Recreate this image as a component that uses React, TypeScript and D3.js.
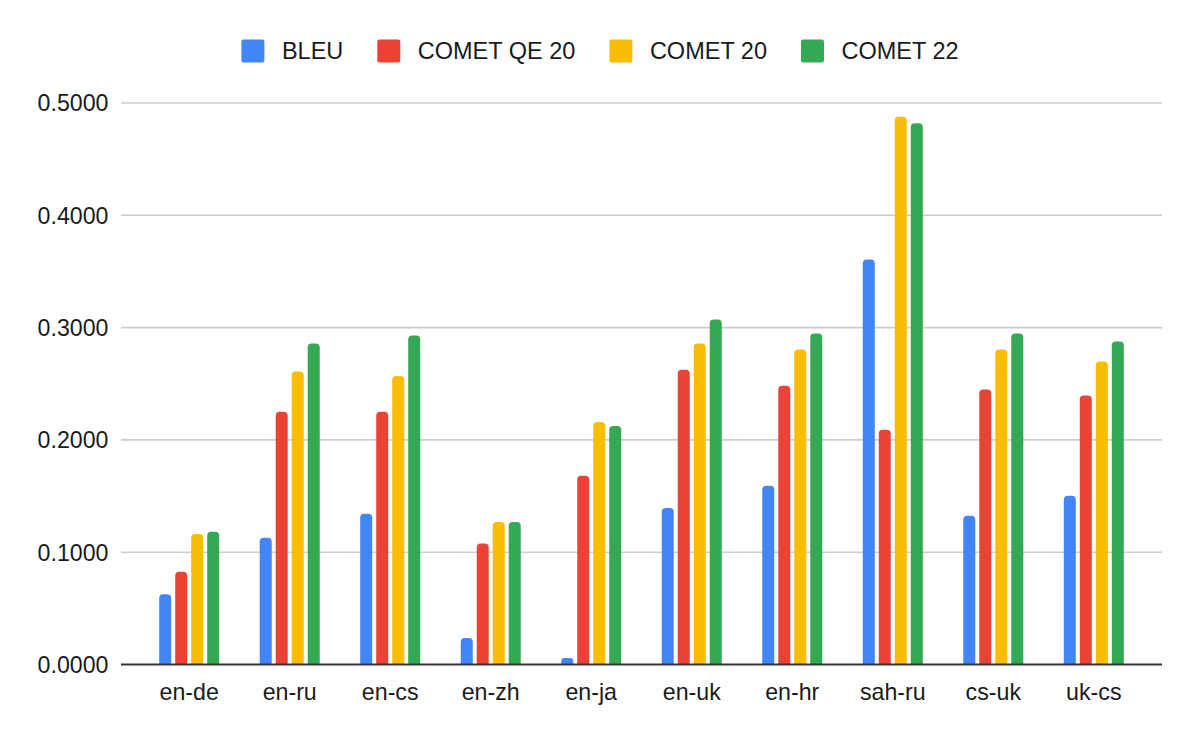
import { useEffect, useRef } from "react"
import * as d3 from "d3"

const categories = ["en-de", "en-ru", "en-cs", "en-zh", "en-ja", "en-uk", "en-hr", "sah-ru", "cs-uk", "uk-cs"]
const seriesNames = ["BLEU", "COMET QE 20", "COMET 20", "COMET 22"]
const seriesColors = ["#4285F4", "#EA4335", "#FBBC04", "#34A853"]

const bleu = [0.0625, 0.1128, 0.1342, 0.0236, 0.0057, 0.1393, 0.1591, 0.3607, 0.1324, 0.1502]
const cometQe20 = [0.0827, 0.225, 0.225, 0.1077, 0.168, 0.2624, 0.2483, 0.2091, 0.2448, 0.2395]
const comet20 = [0.1163, 0.2608, 0.257, 0.127, 0.216, 0.2858, 0.2805, 0.4877, 0.2805, 0.2698]
const comet22 = [0.1181, 0.2858, 0.293, 0.127, 0.2124, 0.3072, 0.2947, 0.482, 0.2947, 0.2876]

const yTicks = [0, 0.1, 0.2, 0.3, 0.4, 0.5]

const W = 1200
const H = 742
const FONT = "'Liberation Sans', Arial, sans-serif"

export default function App() {
  const svgRef = useRef<SVGSVGElement>(null)

  useEffect(() => {
    document.body.style.margin = "0"
    const svg = d3.select(svgRef.current)
    svg.selectAll("*").remove()

    const values = [bleu, cometQe20, comet20, comet22]
    const left = 121
    const right = 1162
    const top = 103
    const bottom = 664.5

    const x = d3.scaleBand().domain(categories).range([left, right]).paddingInner(0.403).paddingOuter(0.38)
    const xs = d3.scaleBand().domain(seriesNames).range([0, x.bandwidth()]).paddingInner(0.25)
    const y = d3.scaleLinear().domain([0, 0.5]).range([bottom, top])

    // gridlines
    svg
      .append("g")
      .selectAll("line")
      .data(yTicks.filter((t) => t > 0))
      .enter()
      .append("line")
      .attr("x1", left)
      .attr("x2", right)
      .attr("y1", (d) => y(d))
      .attr("y2", (d) => y(d))
      .attr("stroke", "#cccccc")
      .attr("stroke-width", 1.6)

    // y labels
    svg
      .append("g")
      .selectAll("text")
      .data(yTicks)
      .enter()
      .append("text")
      .attr("x", 108.5)
      .attr("y", (d) => y(d))
      .attr("dy", "0.36em")
      .attr("text-anchor", "end")
      .attr("font-family", FONT)
      .attr("font-size", 23.2)
      .attr("fill", "#1a1a1a")
      .text((d) => d.toFixed(4))

    // bars with rounded tops
    const r = 4
    const barPath = (bx: number, by: number, bw: number) => {
      const h = bottom - by
      const rr = Math.min(r, h / 2, bw / 2)
      return `M${bx},${bottom}V${by + rr}A${rr},${rr} 0 0 1 ${bx + rr},${by}H${bx + bw - rr}A${rr},${rr} 0 0 1 ${bx + bw},${by + rr}V${bottom}Z`
    }

    const groups = svg
      .append("g")
      .selectAll("g")
      .data(categories)
      .enter()
      .append("g")
      .attr("transform", (d) => `translate(${x(d)},0)`)

    groups
      .selectAll("path")
      .data((_, i) => seriesNames.map((s, j) => ({ s, j, v: values[j][i] })))
      .enter()
      .append("path")
      .attr("d", (d) => barPath(xs(d.s)!, y(d.v), xs.bandwidth()))
      .attr("fill", (d) => seriesColors[d.j])

    // baseline
    svg
      .append("line")
      .attr("x1", left)
      .attr("x2", right)
      .attr("y1", bottom)
      .attr("y2", bottom)
      .attr("stroke", "#333333")
      .attr("stroke-width", 2)

    // x labels
    svg
      .append("g")
      .selectAll("text")
      .data(categories)
      .enter()
      .append("text")
      .attr("x", (d) => x(d)! + x.bandwidth() / 2)
      .attr("y", 699.5)
      .attr("text-anchor", "middle")
      .attr("font-family", FONT)
      .attr("font-size", 23.2)
      .attr("fill", "#1a1a1a")
      .text((d) => d)

    // legend
    const legend = svg.append("g")
    const box = 23
    const boxGap = 17.5
    const itemGap = 34
    let cx = 0
    seriesNames.forEach((name, i) => {
      const item = legend.append("g").attr("transform", `translate(${cx},0)`)
      item
        .append("rect")
        .attr("x", 0)
        .attr("y", 39.5)
        .attr("width", box)
        .attr("height", box)
        .attr("rx", 2)
        .attr("fill", seriesColors[i])
      const t = item
        .append("text")
        .attr("x", box + boxGap)
        .attr("y", 59)
        .attr("font-family", FONT)
        .attr("font-size", 23.5)
        .attr("fill", "#1a1a1a")
        .text(name)
      const tw = (t.node() as SVGTextElement).getComputedTextLength()
      cx += box + boxGap + tw + itemGap
    })
    const total = cx - itemGap
    legend.attr("transform", `translate(${(W - total) / 2},0)`)
  }, [])

  return <svg ref={svgRef} width={W} height={H} style={{ display: "block", background: "#fff" }} />
}
